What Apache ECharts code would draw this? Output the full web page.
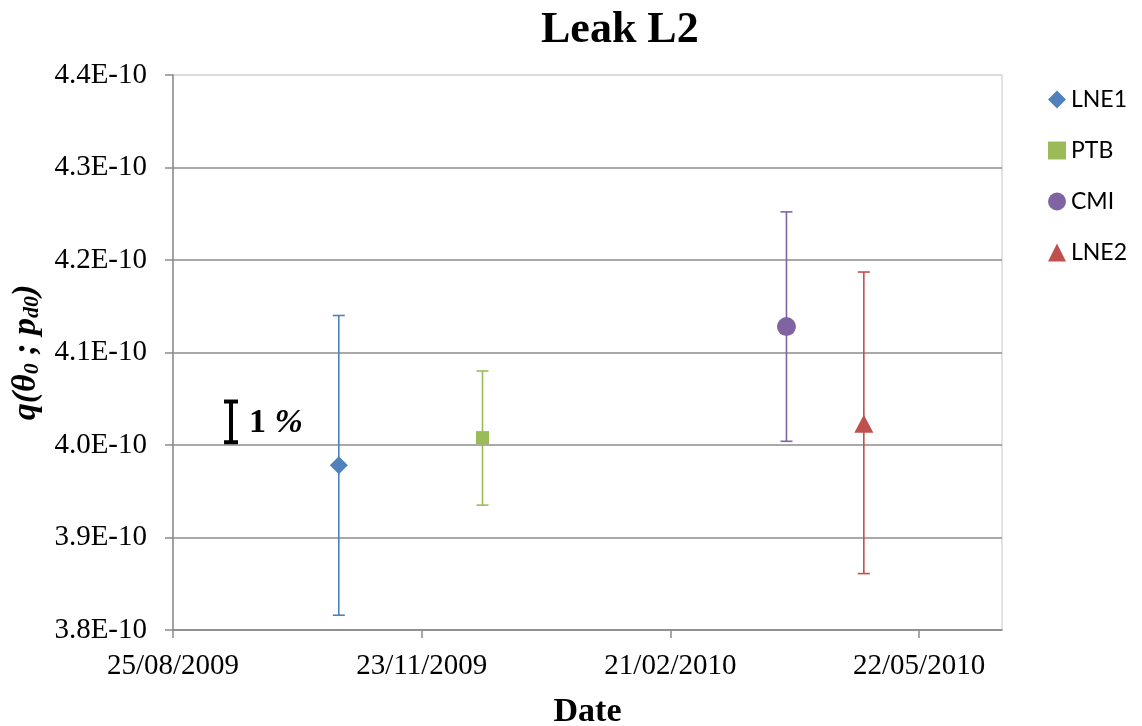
<!DOCTYPE html>
<html>
<head>
<meta charset="utf-8">
<title>Leak L2</title>
<script src="https://cdn.jsdelivr.net/npm/echarts@6/dist/echarts.min.js"></script>
<style>
  html, body { margin: 0; padding: 0; background: #fff; }
  #chart { width: 1142px; height: 726px; }
</style>
</head>
<body>
<div id="chart"></div>
<script>
// values of q in units of 1E-10
var labNames = ['LNE1', 'PTB', 'CMI', 'LNE2'];
var labDates = ['24/10/2009', '15/12/2009', '04/04/2010', '02/05/2010'];
var labValues = [3.978, 4.008, 4.128, 4.023];
var labLow = [3.816, 3.935, 4.004, 3.861];
var labHigh = [4.140, 4.080, 4.252, 4.187];
var labColors = ['#4F81BD', '#9BBB59', '#8064A2', '#C0504D'];
var labSymbols = ['diamond', 'rect', 'circle', 'triangle'];
var labSymbolSizes = [18, 13, 19, [19, 18]];

// the "1 %" scale bar
var refDate = '15/09/2009';
var refLow = 4.003;
var refHigh = 4.047;

// x axis ticks (Excel day numbers)
var xMin = '25/08/2009';
var xMax = '21/06/2010';
var xStepDays = 90;

var serif = '"Liberation Serif", "Times New Roman", serif';

function toSerial(s) {
  var p = s.split('/');
  return Date.UTC(+p[2], +p[1] - 1, +p[0]) / 86400000 + 25569;
}
function fromSerial(v) {
  var d = new Date((v - 25569) * 86400000);
  var dd = ('0' + d.getUTCDate()).slice(-2);
  var mm = ('0' + (d.getUTCMonth() + 1)).slice(-2);
  return dd + '/' + mm + '/' + d.getUTCFullYear();
}

function errorBar(params, api) {
  var isRef = params.seriesName === 'ref';
  var x = api.value(0);
  var lo = api.coord([x, api.value(1)]);
  var hi = api.coord([x, api.value(2)]);
  var half = isRef ? 7 : 6;
  var style = { stroke: api.visual('color'), lineWidth: isRef ? 4 : 1.6 };
  var children = [
    { type: 'line', shape: { x1: hi[0], y1: hi[1], x2: lo[0], y2: lo[1] }, style: style },
    { type: 'line', shape: { x1: hi[0] - half, y1: hi[1], x2: hi[0] + half, y2: hi[1] }, style: style },
    { type: 'line', shape: { x1: lo[0] - half, y1: lo[1], x2: lo[0] + half, y2: lo[1] }, style: style }
  ];
  if (isRef) {
    children.push({
      type: 'text',
      style: {
        x: hi[0] + 18, y: (hi[1] + lo[1]) / 2 + 1,
        text: '{a|1 }{b|%}',
        verticalAlign: 'middle',
        rich: {
          a: { fontFamily: serif, fontWeight: 'bold', fontSize: 34, fill: '#000' },
          b: { fontFamily: serif, fontWeight: 'bold', fontStyle: 'italic', fontSize: 34, fill: '#000' }
        }
      }
    });
  }
  return { type: 'group', children: children };
}

var series = [];
for (var i = 0; i < labNames.length; i++) {
  var x = toSerial(labDates[i]);
  series.push({
    name: labNames[i] + ' bar',
    type: 'custom',
    renderItem: errorBar,
    itemStyle: { color: labColors[i] },
    encode: { x: 0, y: [1, 2] },
    data: [[x, labLow[i], labHigh[i]]],
    silent: true,
    z: 2
  });
  series.push({
    name: labNames[i],
    type: 'scatter',
    symbol: labSymbols[i],
    symbolSize: labSymbolSizes[i],
    itemStyle: { color: labColors[i], opacity: 1 },
    data: [[x, labValues[i]]],
    z: 3
  });
}
series.push({
  name: 'ref',
  type: 'custom',
  renderItem: errorBar,
  itemStyle: { color: '#000' },
  encode: { x: 0, y: [1, 2] },
  data: [[toSerial(refDate), refLow, refHigh]],
  silent: true,
  z: 3
});

var gridColor = '#8c8c8c';
var myChart = echarts.init(document.getElementById('chart'));
var option = {
  animation: false,
  backgroundColor: '#fff',
  title: {
    text: 'Leak L2',
    left: 536,
    top: 4,
    textStyle: { fontFamily: serif, fontWeight: 'bold', fontSize: 44, color: '#000' }
  },
  legend: {
    orient: 'vertical',
    left: 1043,
    top: 83,
    itemWidth: 18,
    itemHeight: 18,
    itemGap: 28,
    data: [
      { name: 'LNE1', icon: 'diamond' },
      { name: 'PTB', icon: 'rect' },
      { name: 'CMI', icon: 'circle' },
      { name: 'LNE2', icon: 'triangle' }
    ],
    textStyle: { fontFamily: 'Lato, "Open Sans", sans-serif', fontSize: 23, lineHeight: 18, color: '#000' }
  },
  grid: {
    left: 173,
    right: 140,
    top: 75,
    bottom: 96,
    outerBoundsMode: 'none',
    show: true,
    borderColor: '#d9d9d9',
    borderWidth: 1.5
  },
  xAxis: {
    type: 'value',
    min: toSerial(xMin),
    max: toSerial(xMax),
    interval: xStepDays,
    name: 'Date',
    nameLocation: 'middle',
    nameGap: 65,
    nameTextStyle: { fontFamily: serif, fontWeight: 'bold', fontSize: 34, color: '#000' },
    axisLine: { show: true, lineStyle: { color: gridColor, width: 1.5 } },
    axisTick: { show: true, length: 8, lineStyle: { color: gridColor, width: 1.5 } },
    splitLine: { show: false },
    axisLabel: {
      showMaxLabel: false,
      margin: 22,
      fontFamily: serif,
      fontSize: 29,
      color: '#000',
      formatter: function (v) {
        return (v - toSerial(xMin)) % xStepDays === 0 ? fromSerial(v) : '';
      }
    }
  },
  yAxis: {
    type: 'value',
    min: 3.8,
    max: 4.4,
    interval: 0.1,
    name: '{n|q(θ}{s|0}{n| ; p}{s|d0}{n|)}',
    nameLocation: 'middle',
    nameGap: 127,
    nameTextStyle: {
      rich: {
        n: { fontFamily: serif, fontWeight: 'bold', fontStyle: 'italic', fontSize: 34, lineHeight: 34, color: '#000' },
        s: {
          fontFamily: serif, fontWeight: 'bold', fontStyle: 'italic', fontSize: 22, lineHeight: 12,
          verticalAlign: 'bottom', color: '#000'
        }
      }
    },
    axisLine: { show: true, lineStyle: { color: gridColor, width: 1.5 } },
    axisTick: { show: true, length: 8, lineStyle: { color: gridColor, width: 1.5 } },
    splitLine: {
      show: true,
      lineStyle: {
        color: [gridColor, gridColor, gridColor, gridColor, gridColor, gridColor, '#d9d9d9'],
        width: 1.5
      }
    },
    axisLabel: {
      margin: 26,
      fontFamily: serif,
      fontSize: 29,
      color: '#000',
      formatter: function (v) { return v.toFixed(1) + 'E-10'; }
    }
  },
  series: series
};
myChart.setOption(option);
window.onresize = myChart.resize;
</script>
</body>
</html>
